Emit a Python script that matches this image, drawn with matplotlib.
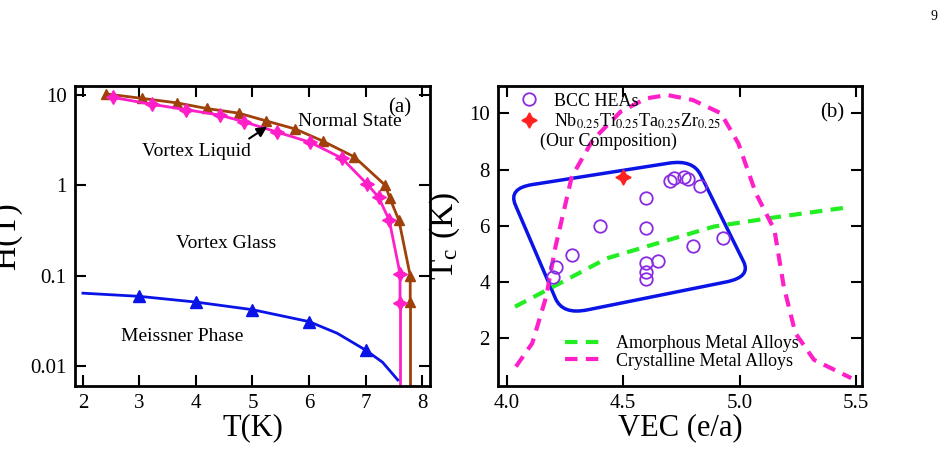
import matplotlib
matplotlib.use("Agg")
import matplotlib.pyplot as plt
from matplotlib.path import Path
from matplotlib.patches import PathPatch
from matplotlib.lines import Line2D
import numpy as np

plt.rcParams['font.family'] = ['Liberation Serif', 'DejaVu Serif']
plt.rcParams['mathtext.fontset'] = 'stix'

# Panel (a)
T_hc2 = [2.41, 3.04, 3.66, 4.19, 4.76, 5.23, 5.76, 6.24, 6.80, 7.35, 7.43, 7.59, 7.79, 7.79]
H_hc2 = [10.3, 9.2, 8.2, 7.1, 6.3, 5.2, 4.2, 3.1, 2.07, 1.0, 0.72, 0.41, 0.10, 0.051]
T_irr = [2.54, 3.22, 3.82, 4.42, 4.85, 5.43, 6.02, 6.58, 7.03, 7.23, 7.42, 7.61, 7.61]
H_irr = [9.4, 7.9, 6.9, 6.0, 5.06, 3.9, 3.0, 2.0, 1.03, 0.74, 0.41, 0.105, 0.05]
T_hc1_line = [2.0, 3.0, 4.0, 5.0, 6.0, 6.5, 7.0, 7.3, 7.57]
H_hc1_line = [0.064, 0.059, 0.051, 0.042, 0.031, 0.023, 0.015, 0.011, 0.007]
T_hc1 = [3, 4, 5, 6, 7]
H_hc1 = [0.059, 0.051, 0.042, 0.031, 0.015]

# Panel (b)
vec_bcc = [4.20, 4.21, 4.28, 4.40, 4.60, 4.60, 4.60, 4.60, 4.60, 4.65, 4.70, 4.72, 4.76, 4.78, 4.83, 4.80, 4.93]
tc_bcc = [4.17, 4.55, 4.96, 5.99, 6.98, 5.91, 4.69, 4.37, 4.10, 4.75, 7.60, 7.69, 7.72, 7.65, 7.41, 5.29, 5.57]
vec_our = [4.50]
tc_our = [7.73]
vec_amor = [4.036, 4.23, 4.43, 4.60, 4.89, 5.17, 5.47]
tc_amor = [3.12, 3.96, 4.84, 5.26, 5.97, 6.32, 6.66]
vec_cry = [4.04, 4.11, 4.17, 4.21, 4.28, 4.37, 4.49, 4.60, 4.69, 4.80, 4.92, 4.995, 5.07, 5.15, 5.19, 5.24, 5.32, 5.48]
tc_cry = [0.99, 1.82, 3.48, 5.26, 7.75, 9.05, 10.06, 10.53, 10.65, 10.47, 10.0, 8.93, 7.16, 5.85, 3.84, 2.18, 1.23, 0.58]
box_vec = [4.007, 4.80, 5.05, 4.24]
box_tc = [7.33, 8.36, 4.18, 2.83]

fig = plt.figure(figsize=(9.52, 4.68), dpi=100)
ax1 = fig.add_axes([75/952, 82/468, 355/952, 300/468])
ax2 = fig.add_axes([498/952, 82/468, 364/952, 300/468])
fig.text(0.985, 0.965, "9", fontsize=10, ha='right', va='center')

ax1.plot(T_hc2, H_hc2, color='#a0400a', lw=2, marker='^', ms=7)
ax1.plot(T_irr, H_irr, color='#ff1fc8', lw=2)
ax1.plot(T_irr, H_irr, ls='none', color='#ff1fc8', marker=(4, 1, 0), ms=10)
ax1.plot([T_hc2[-1], T_hc2[-1]], [H_hc2[-1], 0.001], color='#a0400a', lw=2)
ax1.plot([T_irr[-1], T_irr[-1]], [H_irr[-1], 0.001], color='#ff1fc8', lw=2)
ax1.plot(T_hc1_line, H_hc1_line, color='#0a14e6', lw=2)
ax1.plot(T_hc1, H_hc1, ls='none', color='#0a14e6', marker='^', ms=9)
ax1.set_yscale('log')
ax1.set_xlim(1.86, 8.14)
ax1.set_ylim(0.006, 12.6)
ax1.set_xticks([2, 3, 4, 5, 6, 7, 8])
ax1.set_yticks([0.01, 0.1, 1, 10])
ax1.set_yticklabels(['0.01', '0.1', '1', '10'])
ax1.minorticks_off()
ax1.annotate('', xy=(5.3, 4.65), xytext=(4.9, 3.17),
             arrowprops=dict(arrowstyle='-|>', color='black', lw=1.5, mutation_scale=15))
ax1.text(6.72, 5.1, 'Normal State', fontsize=14, ha='center', va='center')
ax1.text(7.61, 7.2, '(a)', fontsize=15, ha='center', va='center')
ax1.text(4.01, 2.35, 'Vortex Liquid', fontsize=14, ha='center', va='center')
ax1.text(4.54, 0.23, 'Vortex Glass', fontsize=14, ha='center', va='center')
ax1.text(3.75, 0.021, 'Meissner Phase', fontsize=14, ha='center', va='center')
ax1.set_xlabel('T(K)', fontsize=22, labelpad=0)
ax1.set_ylabel('H(T)', fontsize=24)
ax1.yaxis.set_label_coords(-0.15, 0.5)

# rounded box
verts = []
codes = []
n = len(box_vec)
r = 0.13
pts = list(zip(box_vec, box_tc))
for i in range(n):
    p0 = np.array(pts[i - 1]); p1 = np.array(pts[i]); p2 = np.array(pts[(i + 1) % n])
    a = p1 + (p0 - p1) * r
    b = p1 + (p2 - p1) * r
    verts.append(a); codes.append(Path.MOVETO if i == 0 else Path.LINETO)
    verts += [p1, b]; codes += [Path.CURVE3, Path.CURVE3]
verts.append(verts[0]); codes.append(Path.LINETO)
ax2.add_patch(PathPatch(Path(verts, codes), fill=False, edgecolor='#0a14e6', lw=2.5))

ax2.plot(vec_amor, tc_amor, color='#22ee22', lw=3, ls=(0, (3, 2)))
ax2.plot(vec_cry, tc_cry, color='#ff1fc8', lw=3, ls=(0, (3, 2)))
h1, = ax2.plot(vec_bcc, tc_bcc, ls='none', marker='o', ms=9, mfc='none', mec='#8a2be2', mew=1.3)
h2, = ax2.plot(vec_our, tc_our, ls='none', marker=(4, 1, 0), ms=11, color='#ff2020')
ax2.set_xlim(3.963, 5.526)
ax2.set_ylim(0.30, 10.97)
ax2.set_xticks([4.0, 4.5, 5.0, 5.5])
ax2.set_yticks([2, 4, 6, 8, 10])
ax2.text(5.4, 10.0, '(b)', fontsize=15, ha='center', va='center')
leg1 = ax2.legend([h1, h2], ['BCC HEAs', r'Nb$_{0.25}$Ti$_{0.25}$Ta$_{0.25}$Zr$_{0.25}$'],
                  loc='upper left', bbox_to_anchor=(0.0, 1.02), frameon=False, fontsize=13,
                  handletextpad=0.4, labelspacing=0.1, borderpad=0.2)
ax2.add_artist(leg1)
ax2.text(0.115, 0.815, '(Our Composition)', transform=ax2.transAxes, fontsize=13, va='center')
g = Line2D([], [], color='#22ee22', lw=3, ls=(0, (3, 2)))
m = Line2D([], [], color='#ff1fc8', lw=3, ls=(0, (3, 2)))
ax2.legend([g, m], ['Amorphous Metal Alloys', 'Crystalline Metal Alloys'],
           loc='lower left', bbox_to_anchor=(0.14, 0.0), frameon=False, fontsize=13,
           handlelength=2.2, labelspacing=0.05, handletextpad=0.6)
ax2.set_xlabel('VEC (e/a)', fontsize=22, labelpad=0)
ax2.set_ylabel(r'T$_\mathregular{c}$ (K)', fontsize=24)
ax2.yaxis.set_label_coords(-0.1, 0.5)

for ax in (ax1, ax2):
    ax.tick_params(direction='in', top=True, right=True, length=8, width=1.5, labelsize=15, pad=6)
    for s in ax.spines.values():
        s.set_linewidth(2)

fig.savefig('out.png', dpi=100)
